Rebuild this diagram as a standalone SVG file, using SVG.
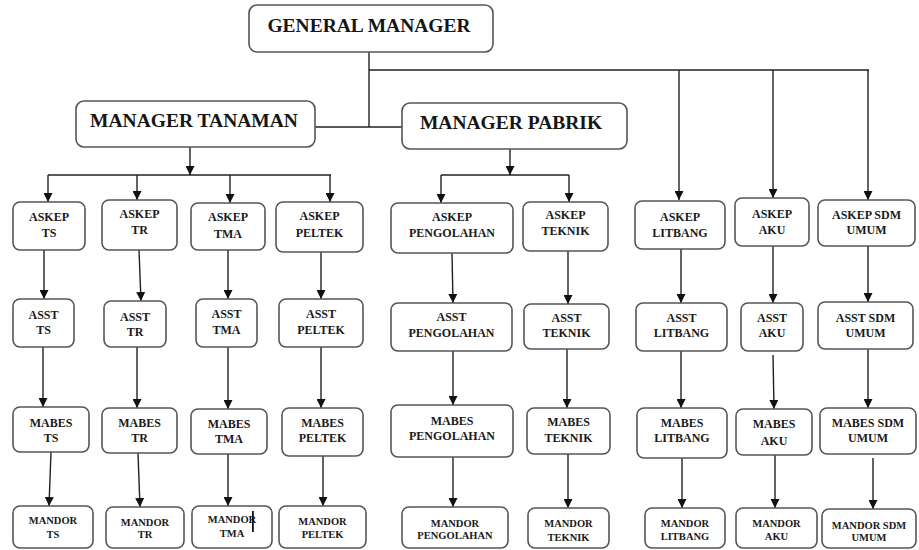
<svg xmlns="http://www.w3.org/2000/svg" width="919" height="550" viewBox="0 0 919 550">
<style>
.box{fill:#fff;stroke:#555;stroke-width:1.6}
.big{font-family:"Liberation Serif","Times New Roman",serif;font-weight:bold;font-size:19.5px;fill:#161616;text-anchor:middle}
.lb{font-family:"Liberation Serif","Times New Roman",serif;font-weight:bold;font-size:12px;fill:#1a1a1a;text-anchor:middle}
.sm{font-family:"Liberation Serif","Times New Roman",serif;font-weight:bold;font-size:10.5px;fill:#1a1a1a;text-anchor:middle}
.ln{fill:none;stroke:#222;stroke-width:1.4}
.ar{fill:none;stroke:#222;stroke-width:1.4;marker-end:url(#ah)}
</style>
<defs>
<marker id="ah" viewBox="0 0 10 10" refX="10" refY="5" markerWidth="9" markerHeight="9" markerUnits="userSpaceOnUse" orient="auto">
<path d="M0,0 L10,5 L0,10 z" fill="#111"/>
</marker>
</defs>
<rect width="919" height="550" fill="#fff"/>
<g id="connectors">
<path class="ln" d="M369,52 V127"/>
<path class="ln" d="M315,127 H402"/>
<path class="ln" d="M369,70 H869"/>
<path class="ar" d="M679,70 V200"/>
<path class="ar" d="M773,70 V198"/>
<path class="ar" d="M868,70 V200"/>
<path class="ar" d="M190,147 V175"/>
<path class="ln" d="M48,175 H331"/>
<path class="ar" d="M48,175 V202"/>
<path class="ar" d="M137,175 V200"/>
<path class="ar" d="M230,175 V203"/>
<path class="ar" d="M330,175 V202"/>
<path class="ar" d="M510,149 V175"/>
<path class="ln" d="M441,175 H569"/>
<path class="ar" d="M441,175 V203"/>
<path class="ar" d="M569,175 V202"/>
<path class="ar" d="M44,250 V299"/>
<path class="ar" d="M43,347 V407"/>
<path class="ar" d="M51,452 L49,506"/>
<path class="ar" d="M139,250 L141,301"/>
<path class="ar" d="M137,347 V408"/>
<path class="ar" d="M138,453 L140,507"/>
<path class="ar" d="M228,250 V299"/>
<path class="ar" d="M228,347 V409"/>
<path class="ar" d="M228,454 V506"/>
<path class="ar" d="M321,252 V299"/>
<path class="ar" d="M321,347 V408"/>
<path class="ar" d="M323,456 V506"/>
<path class="ar" d="M452,253 L453,303"/>
<path class="ar" d="M453,351 V405"/>
<path class="ar" d="M453,457 V507"/>
<path class="ar" d="M568,251 V304"/>
<path class="ar" d="M567,349 V408"/>
<path class="ar" d="M568,454 V508"/>
<path class="ar" d="M681,249 V303"/>
<path class="ar" d="M681,351 V408"/>
<path class="ar" d="M682,458 V508"/>
<path class="ar" d="M773,246 V303"/>
<path class="ar" d="M773,355 L774,409"/>
<path class="ar" d="M775,455 V508"/>
<path class="ar" d="M868,246 V302"/>
<path class="ar" d="M868,349 V408"/>
<path class="ar" d="M873,458 V509"/>
</g>
<g id="general-manager"><rect class="box" x="249" y="5" width="244" height="47" rx="8"/><text class="big" x="369" y="32">GENERAL MANAGER</text></g>
<g id="manager-tanaman"><rect class="box" x="76" y="101" width="239" height="46" rx="8"/><text class="big" x="194" y="127">MANAGER TANAMAN</text></g>
<g id="manager-pabrik"><rect class="box" x="402" y="103" width="225" height="46" rx="8"/><text class="big" x="511" y="129">MANAGER PABRIK</text></g>

<g id="askep-ts"><rect class="box" x="13" y="202" width="72" height="48" rx="7"/><text class="lb" x="49" y="221">ASKEP</text><text class="lb" x="49" y="237">TS</text></g>
<g id="askep-tr"><rect class="box" x="102" y="200" width="75" height="50" rx="7"/><text class="lb" x="139.5" y="218">ASKEP</text><text class="lb" x="139.5" y="234">TR</text></g>
<g id="askep-tma"><rect class="box" x="191" y="203" width="74" height="47" rx="7"/><text class="lb" x="228" y="221">ASKEP</text><text class="lb" x="228" y="238">TMA</text></g>
<g id="askep-peltek"><rect class="box" x="276" y="202" width="87" height="50" rx="7"/><text class="lb" x="319.5" y="220">ASKEP</text><text class="lb" x="319.5" y="237">PELTEK</text></g>
<g id="asst-ts"><rect class="box" x="13" y="299" width="61" height="48" rx="7"/><text class="lb" x="43.5" y="319">ASST</text><text class="lb" x="43.5" y="334">TS</text></g>
<g id="asst-tr"><rect class="box" x="104" y="301" width="62" height="46" rx="7"/><text class="lb" x="135" y="321">ASST</text><text class="lb" x="135" y="336">TR</text></g>
<g id="asst-tma"><rect class="box" x="196" y="299" width="61" height="48" rx="7"/><text class="lb" x="226.5" y="318">ASST</text><text class="lb" x="226.5" y="334">TMA</text></g>
<g id="asst-peltek"><rect class="box" x="279" y="299" width="84" height="48" rx="7"/><text class="lb" x="321" y="318">ASST</text><text class="lb" x="321" y="334">PELTEK</text></g>
<g id="mabes-ts"><rect class="box" x="13" y="407" width="76" height="45" rx="7"/><text class="lb" x="51" y="427">MABES</text><text class="lb" x="51" y="442">TS</text></g>
<g id="mabes-tr"><rect class="box" x="102" y="408" width="75" height="45" rx="7"/><text class="lb" x="139.5" y="427">MABES</text><text class="lb" x="139.5" y="442">TR</text></g>
<g id="mabes-tma"><rect class="box" x="191" y="409" width="76" height="45" rx="7"/><text class="lb" x="229" y="428">MABES</text><text class="lb" x="229" y="443">TMA</text></g>
<g id="mabes-peltek"><rect class="box" x="282" y="408" width="81" height="48" rx="7"/><text class="lb" x="322.5" y="427">MABES</text><text class="lb" x="322.5" y="442">PELTEK</text></g>
<g id="mandor-ts"><rect class="box" x="13" y="506" width="80" height="42" rx="7"/><text class="sm" x="53" y="524">MANDOR</text><text class="sm" x="53" y="538">TS</text></g>
<g id="mandor-tr"><rect class="box" x="106" y="507" width="78" height="41" rx="7"/><text class="sm" x="145" y="526">MANDOR</text><text class="sm" x="145" y="538">TR</text></g>
<g id="mandor-tma"><rect class="box" x="192" y="506" width="80" height="42" rx="7"/><text class="sm" x="232" y="523">MANDOR</text><text class="sm" x="232" y="537">TMA</text><rect x="252" y="511" width="1.8" height="21" fill="#111"/></g>
<g id="mandor-peltek"><rect class="box" x="279" y="506" width="87" height="42" rx="7"/><text class="sm" x="322.5" y="525">MANDOR</text><text class="sm" x="322.5" y="538">PELTEK</text></g>

<g id="askep-pengolahan"><rect class="box" x="391" y="203" width="122" height="50" rx="7"/><text class="lb" x="452" y="221">ASKEP</text><text class="lb" x="452" y="237">PENGOLAHAN</text></g>
<g id="askep-teknik"><rect class="box" x="523" y="202" width="85" height="49" rx="7"/><text class="lb" x="565.5" y="219">ASKEP</text><text class="lb" x="565.5" y="235">TEKNIK</text></g>
<g id="asst-pengolahan"><rect class="box" x="391" y="303" width="121" height="48" rx="7"/><text class="lb" x="451.5" y="321">ASST</text><text class="lb" x="451.5" y="337">PENGOLAHAN</text></g>
<g id="asst-teknik"><rect class="box" x="524" y="304" width="85" height="45" rx="7"/><text class="lb" x="566.5" y="322">ASST</text><text class="lb" x="566.5" y="337">TEKNIK</text></g>
<g id="mabes-pengolahan"><rect class="box" x="391" y="405" width="122" height="52" rx="7"/><text class="lb" x="452" y="425">MABES</text><text class="lb" x="452" y="440">PENGOLAHAN</text></g>
<g id="mabes-teknik"><rect class="box" x="527" y="408" width="83" height="46" rx="7"/><text class="lb" x="568.5" y="426">MABES</text><text class="lb" x="568.5" y="442">TEKNIK</text></g>
<g id="mandor-pengolahan"><rect class="box" x="402" y="507" width="106" height="41" rx="7"/><text class="sm" x="455" y="527">MANDOR</text><text class="sm" x="455" y="539">PENGOLAHAN</text></g>
<g id="mandor-teknik"><rect class="box" x="528" y="508" width="81" height="40" rx="7"/><text class="sm" x="568.5" y="527">MANDOR</text><text class="sm" x="568.5" y="541">TEKNIK</text></g>

<g id="askep-litbang"><rect class="box" x="635" y="201" width="90" height="48" rx="7"/><text class="lb" x="680" y="221">ASKEP</text><text class="lb" x="680" y="237">LITBANG</text></g>
<g id="askep-aku"><rect class="box" x="735" y="198" width="74" height="48" rx="7"/><text class="lb" x="772" y="218">ASKEP</text><text class="lb" x="772" y="234">AKU</text></g>
<g id="askep-sdm-umum"><rect class="box" x="818" y="200" width="97" height="46" rx="7"/><text class="lb" x="866.5" y="219">ASKEP SDM</text><text class="lb" x="866.5" y="234">UMUM</text></g>
<g id="asst-litbang"><rect class="box" x="636" y="303" width="91" height="48" rx="7"/><text class="lb" x="681.5" y="322">ASST</text><text class="lb" x="681.5" y="337">LITBANG</text></g>
<g id="asst-aku"><rect class="box" x="741" y="303" width="62" height="48" rx="7"/><text class="lb" x="772" y="322">ASST</text><text class="lb" x="772" y="337">AKU</text></g>
<g id="asst-sdm-umum"><rect class="box" x="818" y="302" width="95" height="47" rx="7"/><text class="lb" x="865.5" y="322">ASST SDM</text><text class="lb" x="865.5" y="337">UMUM</text></g>
<g id="mabes-litbang"><rect class="box" x="637" y="408" width="90" height="50" rx="7"/><text class="lb" x="682" y="427">MABES</text><text class="lb" x="682" y="442">LITBANG</text></g>
<g id="mabes-aku"><rect class="box" x="736" y="409" width="76" height="46" rx="7"/><text class="lb" x="774" y="428">MABES</text><text class="lb" x="774" y="445">AKU</text></g>
<g id="mabes-sdm-umum"><rect class="box" x="820" y="408" width="96" height="46" rx="7"/><text class="lb" x="868" y="427">MABES SDM</text><text class="lb" x="868" y="442">UMUM</text></g>
<g id="mandor-litbang"><rect class="box" x="645" y="508" width="80" height="40" rx="7"/><text class="sm" x="685" y="527">MANDOR</text><text class="sm" x="685" y="540">LITBANG</text></g>
<g id="mandor-aku"><rect class="box" x="736" y="508" width="81" height="40" rx="7"/><text class="sm" x="776.5" y="527">MANDOR</text><text class="sm" x="776.5" y="540">AKU</text></g>
<g id="mandor-sdm-umum"><rect class="box" x="822" y="509" width="94" height="39" rx="7"/><text class="sm" x="869" y="529">MANDOR SDM</text><text class="sm" x="869" y="541">UMUM</text></g>
</svg>
